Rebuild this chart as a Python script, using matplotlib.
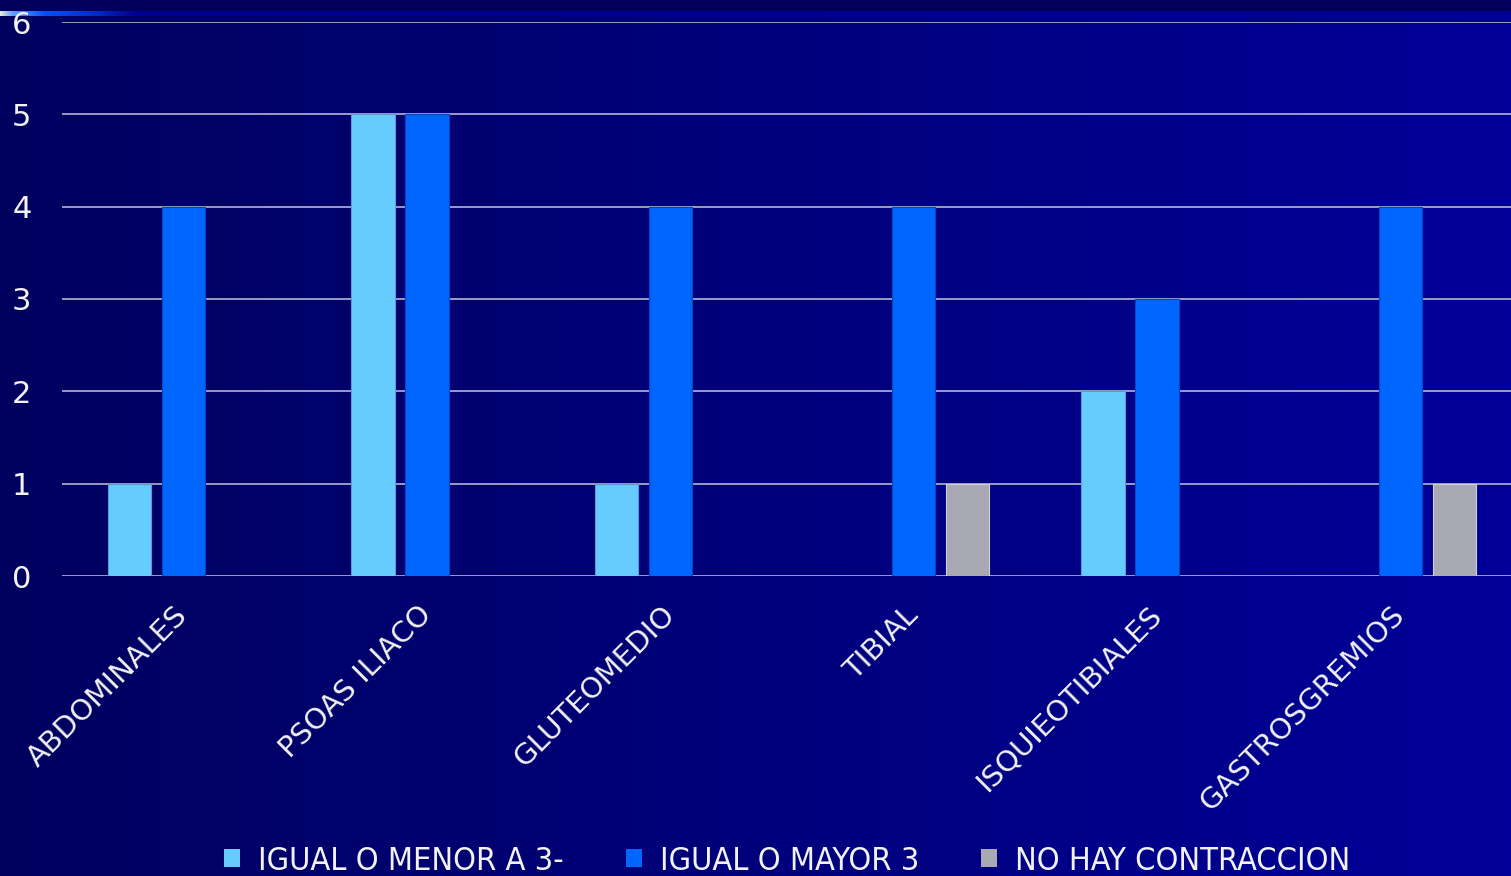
import numpy as np
import matplotlib
matplotlib.use("Agg")
import matplotlib.pyplot as plt
from matplotlib.patches import Patch
from matplotlib import font_manager as fm

# --- data -------------------------------------------------------------
categories = ["ABDOMINALES", "PSOAS ILIACO", "GLUTEOMEDIO", "TIBIAL",
              "ISQUIEOTIBIALES", "GASTROSGREMIOS"]
series_names = ["IGUAL O MENOR A 3-", "IGUAL O MAYOR 3", "NO HAY CONTRACCION"]
menor_3 = [1, 5, 1, 0, 2, 0]
mayor_3 = [4, 5, 4, 4, 3, 4]
no_contraccion = [0, 0, 0, 1, 0, 1]
y_ticks = [0, 1, 2, 3, 4, 5, 6]

colors = ["#66ccff", "#0066ff", "#a9a9b4"]
edges = ["#5a9ad8", "#0046c8", "#d0d0dc"]

# a narrow sans face for the legend, if one is installed
narrow = [f for f in fm.fontManager.ttflist
          if ("narrow" in f.name.lower() or "condensed" in f.name.lower()
              or "narrow" in f.fname.lower() or "condensed" in f.fname.lower())
          and f.weight in (400, "normal", "regular") and f.style == "normal"
          and "mono" not in f.fname.lower()
          and "serif" not in f.fname.lower().replace("sans", "")]
narrow.sort(key=lambda f: (0 if "liberation" in f.fname.lower() else
                           1 if "dejavu" in f.fname.lower() else 2))
if narrow:
    legend_prop = fm.FontProperties(fname=narrow[0].fname, size=23.3)
else:
    legend_prop = fm.FontProperties(family="DejaVu Sans", size=20.5)

W, H = 1511, 876
fig = plt.figure(figsize=(W / 100, H / 100), dpi=100)

# --- slide background: horizontal navy gradient with a top accent ----
xs = np.arange(W)
bg = np.zeros((H, W, 3))
bg[:, :, 2] = np.interp(xs, [0, W - 1], [0x5f, 0x98]) / 255.0
bg[:11, :, 2] = 0x5c / 255.0
stops = [0, 12, 45, 90, 135, W - 1]
for ch, vals in enumerate([[0xe8, 0x60, 0x00, 0x00, 0x00, 0x00],
                           [0xe8, 0xa0, 0x50, 0x30, 0x00, 0x00],
                           [0xd8, 0xff, 0xff, 0xd0, 0x90, 0x92]]):
    bg[11:16, :, ch] = np.interp(xs, stops, vals) / 255.0
bax = fig.add_axes([0, 0, 1, 1], zorder=-10)
bax.imshow(bg, aspect="auto", extent=(0, 1, 0, 1), interpolation="nearest")
bax.set_axis_off()

# --- chart ------------------------------------------------------------
ax = fig.add_axes([62 / W, 300 / H, 1460 / W, 554 / H])
ax.set_facecolor("none")
x = np.arange(len(categories))
bw = 0.177
off = 0.222
for i, vals in enumerate([menor_3, mayor_3, no_contraccion]):
    ax.bar(x + (i - 1) * off, vals, width=bw, color=colors[i],
           edgecolor=edges[i], linewidth=0.8, zorder=3,
           label=series_names[i])

ax.set_xlim(-0.5, len(categories) - 0.5)
ax.set_ylim(0, 6)
ax.set_yticks(y_ticks)
ax.yaxis.grid(True, color="#c4c4d8", linewidth=1.1, zorder=1)
ax.set_axisbelow(True)
for s in ax.spines.values():
    s.set_visible(False)
ax.tick_params(axis="both", length=0, colors="#f2f2f2")
ax.tick_params(axis="y", labelsize=22, pad=22)
ax.set_xticks(x)
ax.set_xticklabels(categories, rotation=45, ha="right", va="center",
                   rotation_mode="anchor", fontsize=21, color="#f2f2f2")
ax.tick_params(axis="x", pad=25)

handles = [Patch(facecolor=colors[i], edgecolor="none") for i in range(3)]
fs = legend_prop.get_size_in_points()
fig.legend(handles, series_names, loc="center left",
           bbox_to_anchor=(224 / W, 15 / H), ncol=3, frameon=False,
           prop=legend_prop, labelcolor="#f2f2f2",
           handlelength=11.5 / fs, handleheight=11.5 / fs,
           handletextpad=13 / fs, columnspacing=44.6 / fs, borderpad=0,
           borderaxespad=0)

fig.savefig("out.png", dpi=100)
